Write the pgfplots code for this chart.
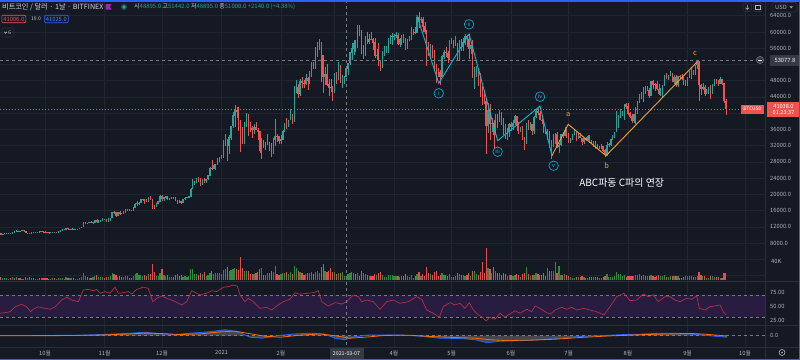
\documentclass[border=0pt]{standalone}
\usepackage{pgfplots}
\pgfplotsset{compat=1.18}
\usepackage{pgfplotstable}
\usepackage{fontspec}
\setmainfont{Noto Sans CJK KR}
\definecolor{bg}{RGB}{21,25,36}
\definecolor{gridc}{RGB}{33,37,49}
\definecolor{sepc}{RGB}{42,46,57}
\definecolor{axtext}{RGB}{178,181,190}
\definecolor{hdr}{RGB}{209,212,220}
\definecolor{upc}{RGB}{38,166,154}
\definecolor{downc}{RGB}{239,83,80}
\definecolor{volg}{RGB}{46,140,62}
\definecolor{volr}{RGB}{226,78,76}
\definecolor{rsic}{RGB}{178,48,72}
\definecolor{rsiband}{RGB}{40,28,64}
\definecolor{dashc}{RGB}{120,123,134}
\definecolor{cyanc}{RGB}{0,188,212}
\definecolor{orangec}{RGB}{242,162,40}
\definecolor{labbox}{RGB}{54,58,69}
\definecolor{bluec}{RGB}{41,98,255}
\definecolor{macdblue}{RGB}{41,98,255}
\definecolor{macdorange}{RGB}{255,109,0}
\definecolor{flagc}{RGB}{156,39,176}

\pgfplotstableread{
d o h l c v
-23 10.37 10.43 9.88 10.13 6
-22 10.13 10.35 10.0 10.23 5
-21 10.23 10.48 10.2 10.34 5
-20 10.34 10.4 10.2 10.39 4
-19 10.39 10.48 10.3 10.44 3
-18 10.44 10.58 10.2 10.33 4
-17 10.33 10.8 10.25 10.68 6
-16 10.68 10.94 10.63 10.79 5
-15 10.79 11.1 10.68 10.95 6
-14 10.95 11.05 10.75 10.94 5
-13 10.94 11.04 10.82 10.93 4
-12 10.93 11.18 10.89 11.08 3
-11 11.08 11.08 10.78 10.92 3
-10 10.92 10.99 10.38 10.42 7
-9 10.42 10.58 10.36 10.53 4
-8 10.53 10.53 10.15 10.24 6
-7 10.24 10.78 10.2 10.74 5
-6 10.74 10.76 10.6 10.69 4
-5 10.69 10.79 10.67 10.73 3
-4 10.73 10.8 10.64 10.77 3
-3 10.77 10.95 10.68 10.70 4
-2 10.70 10.86 10.65 10.84 4
-1 10.84 10.85 10.68 10.78 4
0 10.78 10.92 10.44 10.62 5
1 10.62 10.63 10.38 10.57 5
2 10.57 10.6 10.5 10.55 3
3 10.55 10.69 10.51 10.67 3
4 10.67 10.8 10.6 10.79 4
5 10.79 10.8 10.55 10.60 4
6 10.60 10.69 10.58 10.67 3
7 10.67 10.95 10.54 10.92 5
8 10.92 11.1 10.83 11.06 5
9 11.06 11.45 11.02 11.30 5
10 11.30 11.43 11.25 11.38 3
11 11.38 11.72 11.2 11.54 6
12 11.54 11.56 11.3 11.43 5
13 11.43 11.55 11.28 11.43 4
14 11.43 11.62 11.28 11.50 4
15 11.50 11.55 11.2 11.32 5
16 11.32 11.4 11.28 11.36 3
17 11.36 11.5 11.34 11.48 3
18 11.48 11.8 11.42 11.74 5
19 11.74 12.0 11.67 11.92 6
20 11.92 13.2 11.9 12.82 14
21 12.82 13.2 12.7 12.97 9
22 12.97 13.03 12.73 12.93 6
23 12.93 13.15 12.9 13.11 4
24 13.11 13.33 12.92 13.03 5
25 13.03 13.25 12.8 13.07 6
26 13.07 13.78 13.05 13.65 9
27 13.65 13.85 12.95 13.27 10
28 13.27 13.64 12.99 13.46 7
29 13.46 13.67 13.13 13.56 6
30 13.56 14.1 13.42 13.80 6
31 13.80 13.9 13.62 13.76 4
32 13.76 13.82 13.22 13.55 7
33 13.55 14.07 13.28 13.95 7
34 13.95 14.23 13.53 14.13 8
35 14.13 15.75 14.1 15.58 14
36 15.58 15.96 15.2 15.57 12
37 15.57 15.7 14.35 14.83 11
38 14.83 15.65 14.72 15.48 7
39 15.48 15.83 14.8 15.33 9
40 15.33 15.47 15.08 15.30 6
41 15.30 15.95 15.28 15.70 7
42 15.70 16.34 15.45 16.28 9
43 16.28 16.48 15.96 16.32 8
44 16.32 16.33 15.8 16.07 5
45 16.07 16.15 15.79 15.96 5
46 15.96 16.9 15.88 16.72 9
47 16.72 17.86 16.56 17.65 12
48 17.65 18.48 17.22 17.80 15
49 17.80 18.15 17.35 17.82 10
50 17.82 18.8 17.76 18.68 10
51 18.68 18.96 18.35 18.72 9
52 18.72 18.75 17.65 18.42 10
53 18.42 18.77 18.0 18.37 9
54 18.37 19.4 18.0 19.16 13
55 19.16 19.48 18.6 18.73 12
56 18.73 18.92 16.3 17.15 34
57 17.15 17.45 16.5 17.14 16
58 17.14 17.88 16.88 17.72 9
59 17.72 18.35 17.55 18.18 8
60 18.18 19.85 18.15 19.63 15
61 19.63 19.92 18.3 18.80 23
62 18.80 19.3 18.35 19.20 10
63 19.20 19.58 18.95 19.45 9
64 19.45 19.52 18.6 18.70 11
65 18.70 19.18 18.54 19.15 7
66 19.15 19.42 18.9 19.36 6
67 19.36 19.41 18.9 19.17 7
68 19.17 19.28 18.25 18.32 11
69 18.32 18.63 17.6 18.55 12
70 18.55 18.56 17.9 18.25 9
71 18.25 18.28 17.57 18.04 11
72 18.04 18.95 18.02 18.81 7
73 18.81 19.4 18.7 19.14 8
74 19.14 19.35 19.0 19.25 7
75 19.25 19.56 19.05 19.43 9
76 19.43 21.5 19.3 21.34 23
77 21.34 23.75 21.2 22.80 24
78 22.80 23.28 22.35 23.13 13
79 23.13 24.15 22.8 23.86 12
80 23.86 24.28 23.1 23.48 11
81 23.48 24.1 22.0 22.74 15
82 22.74 23.85 22.4 23.82 13
83 23.82 24.1 22.7 23.25 16
84 23.25 23.8 22.75 23.73 9
85 23.73 24.8 23.45 24.70 10
86 24.70 26.85 24.5 26.46 15
87 26.46 28.4 25.9 26.28 20
88 26.28 27.4 26.2 27.08 12
89 27.08 27.4 25.9 27.36 14
90 27.36 28.99 27.32 28.86 15
91 28.86 29.3 27.9 29.00 14
92 29.00 29.6 28.7 29.37 12
93 29.37 33.3 29.0 32.13 22
94 32.13 34.8 32.0 33.00 24
95 33.00 33.6 28.1 32.01 27
96 32.01 34.5 29.9 34.04 20
97 34.04 36.9 33.4 36.83 21
98 36.83 40.2 36.3 39.37 23
99 39.37 41.95 36.6 40.67 25
100 40.67 41.4 38.8 40.24 23
101 40.24 41.4 35.6 38.24 22
102 38.24 38.3 30.4 35.54 48
103 35.54 36.6 32.5 34.00 25
104 34.00 37.8 32.4 37.39 20
105 37.39 40.0 36.7 39.16 19
106 39.16 39.7 34.4 36.82 20
107 36.82 37.9 35.4 36.18 13
108 36.18 36.9 33.9 35.79 13
109 35.79 37.3 34.8 36.63 12
110 36.63 37.85 35.9 35.89 14
111 35.89 36.4 33.4 35.47 17
112 35.47 35.6 30.1 30.85 24
113 30.85 33.8 28.8 32.98 26
114 32.98 33.4 31.4 32.07 11
115 32.07 32.9 30.9 32.29 10
116 32.29 34.8 32.1 32.37 15
117 32.37 32.9 30.8 32.57 15
118 32.57 32.6 29.3 30.43 18
119 30.43 33.8 30.0 33.47 16
120 33.47 38.5 31.9 34.32 30
121 34.32 34.9 32.9 34.27 12
122 34.27 34.3 32.3 33.11 10
123 33.11 34.7 32.3 33.54 12
124 33.54 35.9 33.4 35.51 14
125 35.51 37.6 35.4 37.47 14
126 37.47 38.7 36.2 36.93 16
127 36.93 38.3 36.6 38.29 12
128 38.29 40.9 38.2 39.26 16
129 39.26 39.7 37.4 38.90 13
130 38.90 46.7 37.9 46.20 30
131 46.20 48.1 45.0 46.48 25
132 46.48 47.3 43.8 44.84 18
133 44.84 48.5 44.2 47.97 17
134 47.97 48.9 46.3 47.48 15
135 47.48 48.1 46.3 47.17 11
136 47.17 49.7 47.0 48.59 12
137 48.59 49.0 45.7 47.93 14
138 47.93 50.5 47.1 49.20 15
139 49.20 52.6 48.9 52.15 17
140 52.15 52.5 50.9 51.68 12
141 51.68 56.2 50.9 55.89 17
142 55.89 57.5 53.9 55.92 20
143 55.92 58.35 55.5 57.48 14
144 57.48 57.5 47.6 54.21 28
145 54.21 54.2 45.0 48.92 33
146 48.92 51.3 47.0 49.70 18
147 49.70 52.0 46.8 47.07 16
148 47.07 48.3 44.2 46.34 20
149 46.34 48.4 45.1 46.19 26
150 46.19 46.6 43.0 45.14 16
151 45.14 49.8 45.0 49.63 17
152 49.63 50.1 47.2 48.38 12
153 48.38 52.6 48.1 50.54 15
154 50.54 51.8 47.5 48.37 14
155 48.37 49.5 46.3 48.76 16
156 48.76 49.2 47.1 48.90 9
157 48.895 51.442 48.895 51.00 9
158 51.00 52.4 49.3 52.40 12
159 52.40 54.9 51.9 54.90 14
160 54.90 57.3 53.1 55.90 16
161 55.90 58.1 54.3 57.30 15
162 57.30 58.0 55.1 57.20 13
163 57.20 61.7 56.1 61.20 14
164 61.20 61.6 59.0 59.00 9
165 59.00 60.6 54.6 55.60 18
166 55.60 56.9 53.4 56.80 15
167 56.80 58.9 54.1 58.90 13
168 58.90 60.0 57.0 57.60 11
169 57.60 59.4 57.0 58.30 9
170 58.30 59.9 57.9 58.10 8
171 58.10 58.6 55.5 57.40 9
172 57.40 58.4 53.7 54.10 12
173 54.10 55.8 53.1 54.30 11
174 54.30 57.2 51.7 52.30 15
175 52.30 53.2 50.4 51.30 16
176 51.30 55.1 51.3 55.20 11
177 55.20 56.6 54.2 55.80 7
178 55.80 56.6 54.7 55.80 6
179 55.80 58.4 54.9 57.60 10
180 57.60 59.3 57.0 58.70 10
181 58.70 59.8 56.9 58.90 11
182 58.90 59.5 57.9 59.00 8
183 59.00 60.1 58.5 59.10 9
184 59.10 59.7 56.9 57.10 8
185 57.10 58.5 56.4 58.20 6
186 58.20 59.3 56.8 59.10 8
187 59.10 59.5 57.3 58.00 8
188 58.00 58.6 55.5 56.00 12
189 56.00 58.2 55.8 58.00 8
190 58.00 58.9 57.7 58.10 6
191 58.10 61.2 57.9 59.80 10
192 59.80 60.7 59.3 59.90 5
193 59.90 61.2 59.4 59.80 9
194 59.80 63.8 59.8 63.50 13
195 63.50 64.85 61.0 62.90 16
196 62.90 63.8 62.1 63.20 9
197 63.20 63.6 60.0 61.40 13
198 61.40 62.5 59.6 60.00 9
199 60.00 60.4 51.5 56.20 27
200 56.20 57.5 54.2 55.70 14
201 55.70 57.0 53.4 56.50 13
202 56.50 56.7 53.6 53.80 11
203 53.80 55.5 50.4 51.70 16
204 51.70 52.1 47.5 51.10 18
205 51.10 51.2 48.8 50.00 9
206 50.00 50.6 47.0 49.00 11
207 49.00 54.3 48.8 54.00 14
208 54.00 55.5 53.3 55.00 10
209 55.00 56.4 53.9 54.80 10
210 54.80 55.2 52.4 53.60 9
211 53.60 58.0 53.0 57.80 12
212 57.80 58.4 57.0 57.80 6
213 57.80 57.9 56.0 56.60 6
214 56.60 58.9 56.5 57.20 9
215 57.20 57.2 53.0 53.20 14
216 53.20 57.9 52.9 57.50 12
217 57.50 58.3 55.3 56.40 10
218 56.40 58.6 55.4 57.40 10
219 57.40 59.5 56.9 58.90 9
220 58.90 59.3 56.3 58.30 10
221 58.30 59.6 53.4 55.90 14
222 55.90 56.9 54.5 56.70 9
223 56.70 57.9 48.6 49.40 20
224 49.40 51.3 46.0 49.70 18
225 49.70 51.5 48.8 49.90 12
226 49.90 50.7 46.6 46.80 11
227 46.80 49.8 43.9 46.40 17
228 46.40 46.6 42.1 43.60 37
229 43.60 45.8 42.3 42.90 14
230 42.90 43.5 30.0 37.00 67
231 37.00 42.5 35.0 40.80 25
232 40.80 42.2 33.5 37.30 23
233 37.30 38.8 35.3 37.50 14
234 37.50 38.3 31.1 34.70 27
235 34.70 39.9 34.5 38.80 18
236 38.80 39.8 36.4 38.40 14
237 38.40 40.8 37.8 39.30 14
238 39.30 40.4 37.2 38.40 10
239 38.40 38.9 34.7 35.70 15
240 35.70 37.3 33.7 34.60 12
241 34.60 36.4 33.4 35.70 9
242 35.70 37.5 34.2 37.30 11
243 37.30 37.9 35.7 36.70 10
244 36.70 38.2 35.9 37.60 9
245 37.60 39.5 37.2 39.20 10
246 39.20 39.3 35.6 36.90 13
247 36.90 37.9 34.8 35.50 10
248 35.50 36.5 35.3 35.80 7
249 35.80 36.8 33.3 33.60 12
250 33.60 34.1 31.0 33.40 15
251 33.40 37.5 32.4 37.40 28
252 37.40 38.4 35.8 36.70 13
253 36.70 37.7 35.9 37.30 9
254 37.30 37.4 34.6 35.60 10
255 35.60 39.3 34.8 39.00 11
256 39.00 41.0 38.8 40.50 15
257 40.50 41.3 39.5 40.10 12
258 40.10 40.5 38.2 38.30 11
259 38.30 39.5 37.4 38.10 10
260 38.10 38.2 35.2 35.80 15
261 35.80 36.4 34.8 35.50 9
262 35.50 36.1 33.4 35.60 25
263 35.60 35.7 31.3 31.70 20
264 31.70 33.3 28.8 32.50 20
265 32.50 34.8 31.7 33.70 18
266 33.70 35.2 32.3 34.70 38
267 34.70 35.3 31.3 31.60 15
268 31.60 32.7 30.2 32.20 29
269 32.20 34.7 32.0 34.70 10
270 34.70 35.3 33.9 34.50 10
271 34.50 36.6 34.3 35.90 12
272 35.90 36.0 34.0 35.00 10
273 35.00 35.0 32.7 33.50 9
274 33.50 33.9 32.7 33.80 7
275 33.80 34.9 33.5 34.70 5
276 34.70 35.9 34.5 35.30 5
277 35.30 35.3 33.2 33.90 7
278 33.90 35.0 33.6 34.20 7
279 34.20 35.0 33.8 33.90 6
280 33.90 33.9 32.1 32.90 9
281 32.90 34.0 32.3 33.80 7
282 33.80 34.2 33.1 33.50 4
283 33.50 34.5 33.3 34.20 4
284 34.20 34.6 32.7 33.10 6
285 33.10 33.3 32.3 32.70 6
286 32.70 33.1 31.6 32.80 7
287 32.80 33.2 31.2 31.80 7
288 31.80 32.3 31.1 31.40 6
289 31.40 31.9 31.2 31.50 4
290 31.50 32.4 31.2 31.80 4
291 31.80 31.9 30.5 30.80 7
292 30.80 31.1 29.3 29.80 9
293 29.80 32.8 29.5 32.10 12
294 32.10 32.6 31.7 32.30 7
295 32.30 33.6 32.0 33.60 7
296 33.60 34.5 33.4 34.30 6
297 34.30 35.4 33.9 35.40 8
298 35.40 40.5 35.3 37.30 17
299 37.30 39.5 36.4 39.40 13
300 39.40 40.9 38.8 40.00 12
301 40.00 40.6 39.2 40.00 8
302 40.00 42.3 38.3 42.20 11
303 42.20 42.4 41.1 41.60 7
304 41.60 42.6 39.5 39.90 9
305 39.90 40.4 38.7 39.20 8
306 39.20 39.7 37.6 38.20 9
307 38.20 39.9 37.5 39.70 8
308 39.70 41.4 37.4 40.90 11
309 40.90 43.0 39.9 42.80 11
310 42.80 44.7 42.5 44.60 12
311 44.60 45.3 43.4 43.80 9
312 43.80 46.5 42.8 46.30 11
313 46.30 46.7 44.8 45.60 9
314 45.60 46.7 45.4 45.60 8
315 45.60 46.2 43.8 44.40 8
316 44.40 47.9 44.3 47.80 10
317 47.80 48.1 45.9 47.10 8
318 47.10 47.4 45.5 47.00 7
319 47.00 48.0 45.6 45.90 9
320 45.90 47.2 44.4 44.70 11
321 44.70 46.1 44.2 44.70 9
322 44.70 47.0 43.9 46.80 9
323 46.80 49.4 46.7 49.30 11
324 49.30 49.8 48.3 48.90 7
325 48.90 49.5 48.1 49.30 6
326 49.30 50.5 49.1 49.50 9
327 49.50 49.9 47.6 47.70 9
328 47.70 49.3 47.2 48.90 8
329 48.90 49.4 46.4 46.90 9
330 46.90 49.2 46.4 49.10 8
331 49.10 49.3 48.4 48.90 5
332 48.90 49.6 48.1 48.80 5
333 48.80 48.9 46.9 47.00 7
334 47.00 48.2 46.7 47.20 9
335 47.20 49.0 46.6 48.80 9
336 48.80 50.4 48.7 49.30 9
337 49.30 51.0 48.4 50.00 9
338 50.00 50.6 49.5 49.90 6
339 49.90 51.9 49.5 51.80 6
340 51.80 52.9 50.9 52.70 8
341 52.70 52.9 43.0 46.90 17
342 46.90 47.3 44.5 46.10 11
343 46.10 47.4 45.6 46.40 8
344 46.40 47.0 44.2 44.90 8
345 44.90 45.9 44.8 45.20 5
346 45.20 46.4 44.8 46.10 5
347 46.10 46.9 43.4 44.90 9
348 44.90 47.2 44.7 47.10 8
349 47.10 48.4 46.7 48.20 7
350 48.20 48.5 47.1 47.80 7
351 47.80 48.2 46.8 47.30 6
352 47.30 48.8 47.1 48.30 5
353 48.30 48.4 46.9 47.30 5
354 47.30 47.3 42.6 43.00 14
355 43.00 43.6 39.6 41.04 14
}\btc

\pgfplotstableread{
x y
0 0.3
40 0.2
80 0.5
110 1.5
130 2.5
145 3.5
160 2
175 1
190 2.5
210 4
225 6
232 5
240 3
250 -1.5
262 -2.5
275 -0.5
290 1.5
310 2.5
325 1.5
335 -2.5
345 -4
355 -1
370 0.8
400 0.8
420 -0.5
440 -2.5
460 -2.8
475 -4
487 -7
500 -5.5
520 -5
540 -4
560 -2.5
580 -0.8
600 0
620 1
640 1.5
660 2.5
680 2.5
700 1
715 -0.5
727 -1.5
}\macd

\pgfplotstableread{
x y
0 0
60 0.1
100 0.6
130 1.8
145 2.6
160 2.2
180 1.2
200 1.8
220 3.8
235 4.6
250 2
265 -0.5
280 -1.5
300 0.5
320 1.8
335 0
350 -2.5
365 -1.5
385 0.3
410 0.5
430 -0.8
455 -1.8
475 -2.5
490 -4
505 -4.8
530 -4.5
555 -3.5
580 -1.8
610 -0.2
640 1
670 1.8
690 2.3
705 1.5
727 -0.3
}\macdsig

\begin{document}
\begin{tikzpicture}[font=\fontsize{6}{7}\selectfont]
\path[use as bounding box, fill=bg] (0,0) rectangle (800bp,-360bp);

% ---------------- price pane
\begin{axis}[at={(0bp,0bp)}, anchor=north west, scale only axis,
  width=765bp, height=282bp,
  xmin=-23.46, xmax=375.4, ymin=-1.59, ymax=67.87,
  axis line style={draw=none}, tick style={draw=none},
  xtick={0,31,61,92,123,151,182,212,243,273,304,335,365}, xticklabels={},
  ytick={0,4,...,64},
  yticklabels={,,8000.0,12000.0,16000.0,20000.0,24000.0,28000.0,32000.0,36000.0,,44000.0,48000.0,,56000.0,60000.0,64000.0},
  yticklabel pos=right,
  yticklabel style={anchor=west, inner sep=0pt, xshift=5bp, text=axtext, font=\fontsize{5.8}{6}\selectfont},
  grid=major, major grid style={gridc, line width=0.6bp},
  clip=true]
% wicks (quiver from low to high)
\addplot[draw=upc, line width=0.5bp, -, forget plot,
  x filter/.expression={\thisrow{c}>=\thisrow{o} ? x : nan},
  quiver={u=0, v=\thisrow{h}-\thisrow{l}}]
  table[x=d, y=l] {\btc};
\addplot[draw=downc, line width=0.5bp, -, forget plot,
  x filter/.expression={\thisrow{c}<\thisrow{o} ? x : nan},
  quiver={u=0, v=\thisrow{h}-\thisrow{l}}]
  table[x=d, y=l] {\btc};
% bodies (quiver from min(o,c) to max(o,c))
\addplot[draw=upc, line width=1.35bp, -, forget plot,
  x filter/.expression={\thisrow{c}>=\thisrow{o} ? x : nan},
  quiver={u=0, v=\thisrow{c}-\thisrow{o}+0.12}]
  table[x=d, y expr={\thisrow{o}-0.06}] {\btc};
\addplot[draw=downc, line width=1.35bp, -, forget plot,
  x filter/.expression={\thisrow{c}<\thisrow{o} ? x : nan},
  quiver={u=0, v=\thisrow{o}-\thisrow{c}+0.12}]
  table[x=d, y expr={\thisrow{c}-0.06}] {\btc};
% crosshair and last price lines
\draw[dashc, dash pattern=on 3bp off 3bp, line width=0.6bp] (axis cs:-23.46,53.0778) -- (axis cs:371,53.0778);
\draw[downc, dash pattern=on 1bp off 2bp, line width=0.6bp] (axis cs:-23.46,41.038) -- (axis cs:375.4,41.038);
% Elliott wave annotation
\addplot[cyanc, line width=0.9bp, forget plot] coordinates {(193.8,64.2) (205.3,47.35) (221.1,59.49) (236.0,33.21) (258.1,41.76) (264.3,29.52)};
\addplot[orangec, line width=0.9bp, forget plot] coordinates {(264.3,29.52) (272.8,37.25) (292.5,29.52) (339.8,52.52)};
\tikzset{wl/.style={circle, draw=cyanc, line width=0.6bp, inner sep=0pt, minimum size=9.5bp, text=cyanc, font=\fontsize{5.5}{6}\selectfont}}
\node[wl] at (axis cs:205.3,44.89) {i};
\node[wl] at (axis cs:221.1,61.88) {ii};
\node[wl] at (axis cs:236.0,30.50) {iii};
\node[wl] at (axis cs:258.1,44.05) {iv};
\node[wl] at (axis cs:265.2,27.05) {v};
\node[text=orangec, font=\fontsize{7.5}{8}\selectfont, inner sep=0pt] at (axis cs:272.8,39.79) {a};
\node[text=orangec, font=\fontsize{7.5}{8}\selectfont, inner sep=0pt] at (axis cs:292.9,27.05) {b};
\node[text=orangec, font=\fontsize{7.5}{8}\selectfont, inner sep=0pt] at (axis cs:338.9,54.74) {c};
\node[text=white, font=\fontsize{10}{11}\selectfont, inner sep=0pt] at (axis cs:300.7,22.87) {ABC파동 C파의 연장};
\end{axis}

% ---------------- volume overlay
\begin{axis}[at={(0bp,-280bp)}, anchor=south west, scale only axis,
  width=765bp, height=40bp, xmin=-23.46, xmax=375.4, ymin=0, ymax=84.2,
  hide axis, clip=true]
\addplot[ycomb, draw=volg, line width=1.2bp, forget plot,
  x filter/.expression={\thisrow{c}>=\thisrow{o} ? x : nan}] table[x=d, y=v] {\btc};
\addplot[ycomb, draw=volr, line width=1.2bp, forget plot,
  x filter/.expression={\thisrow{c}<\thisrow{o} ? x : nan}] table[x=d, y=v] {\btc};
\end{axis}

% ---------------- RSI pane
\begin{axis}[at={(0bp,-281bp)}, anchor=north west, scale only axis,
  width=765bp, height=44bp, xmin=0, xmax=765, ymin=15.8, ymax=96.4,
  axis line style={draw=none}, tick style={draw=none},
  xtick={45,104.5,162,221.5,280.9,334.6,394,451.6,511,568.6,628,687.5,745}, xticklabels={},
  xmajorgrids, major grid style={gridc, line width=0.6bp},
  ytick={25,50,75}, yticklabels={25.00,50.00,75.00},
  yticklabel pos=right,
  yticklabel style={anchor=west, inner sep=0pt, xshift=5bp, text=axtext, font=\fontsize{5.8}{6}\selectfont},
  clip=true]
\fill[rsiband] (axis cs:0,30) rectangle (axis cs:765,70);
\draw[dashc, dash pattern=on 3bp off 3bp, line width=0.6bp] (axis cs:0,70) -- (axis cs:765,70);
\draw[dashc, dash pattern=on 3bp off 3bp, line width=0.6bp] (axis cs:0,30) -- (axis cs:765,30);
\addplot[rsic, line width=0.7bp, forget plot] coordinates {
(0,37.3)(5,38.5)(10,40)(15,49)(21.7,54)(26.7,49)(30.7,40)(33,44.6)(38,49)(45,46.4)(50,44.6)(55,49)
(61.7,61.6)(66.7,66.6)(71.7,61.6)(78.3,58.5)(83.3,80)(88.3,81)(93.3,78.7)(96.7,81)(100,74)(105,77)
(110,74)(115,85)(118.3,74)(123.3,75)(128.3,77)(131.7,72.6)(136.7,81)(143.3,85)(148.3,83)(152.7,58.5)
(156.7,64.7)(161.7,69)(166.7,64.7)(173.3,60.4)(181.7,52.5)(186.7,58.5)(191.7,78.7)(200,70.8)(206.7,74)
(211.7,78.7)(216.7,77)(223.3,85)(228.3,86)(233.3,89)(237.3,87)(240,70.8)(245,58.5)(248.3,64.7)(253.3,58.5)
(260,46.4)(266.7,48.2)(271.7,43.3)(276.7,50.6)(283.3,58.5)(290,62.9)(295,75)(300,72)(306.7,74)(313.3,75)
(318.3,78.7)(321.7,58.5)(328.3,50.6)(335,56.7)(341.7,54.3)(346.7,58.5)(353.3,70.8)(358.3,67.7)(361.7,58.5)
(366.7,61.6)(373.3,58.5)(380,44.6)(386.7,58.5)(393.3,61.6)(400,55.6)(408.3,58.5)(416.7,67.7)(421.7,62.9)
(426.7,43.3)(433.3,37.3)(439.3,30)(443.3,49.4)(450,56.7)(455,52.5)(460,55.6)(465,46.4)(469.3,56.7)
(473.3,43.3)(478.3,34.2)(481.7,31)(486,23.2)(490,30)(495,26.3)(500,37.3)(505,30)(510,36)(515,42)(520,37.3)
(526.7,44.6)(531.7,40)(535,50.6)(540,46.4)(546.7,38.4)(550.7,36)(555,43.3)(561.7,48.2)(566.7,44.6)
(571.7,48.2)(576.7,43.3)(583.3,46.4)(590,43.3)(596.7,40)(604,34.2)(610,49.4)(616.7,67.7)(624,74)(630,60.4)
(636.7,61.6)(643.3,72.6)(648.3,67.7)(653.3,70.8)(658.3,58.5)(665,67.7)(670,67.7)(675,61.6)(680,58.5)
(686.7,64.7)(691.7,62.9)(696.7,69)(699.3,46.4)(705,43.3)(710,49.4)(715,50.6)(720,52.5)(723.3,40)(726,34.2)};
\end{axis}

% ---------------- MACD pane
\begin{axis}[at={(0bp,-325bp)}, anchor=north west, scale only axis,
  width=765bp, height=22bp, xmin=0, xmax=765, ymin=-11.3, ymax=10.7,
  axis line style={draw=none}, tick style={draw=none},
  xtick={45,104.5,162,221.5,280.9,334.6,394,451.6,511,568.6,628,687.5,745},
  xticklabels={10월,11월,12월,2021,2월,,4월,5월,6월,7월,8월,9월,10월},
  xticklabel style={inner sep=0pt, yshift=-3.5bp, text=axtext, font=\fontsize{5.8}{6}\selectfont},
  xmajorgrids, major grid style={gridc, line width=0.6bp},
  ytick={0}, yticklabels={0.0}, yticklabel pos=right,
  yticklabel style={anchor=west, inner sep=0pt, xshift=5bp, text=axtext, font=\fontsize{5.8}{6}\selectfont},
  clip=true]
\draw[dashc, dash pattern=on 3bp off 3bp, line width=0.6bp] (axis cs:0,0) -- (axis cs:765,0);
\addplot[draw=none, fill=gray, fill opacity=0.45, forget plot] table[x=x, y=y] {\macd} \closedcycle;
\addplot[macdblue, line width=0.8bp, forget plot] table[x=x, y=y] {\macd};
\addplot[macdorange, line width=0.8bp, forget plot] table[x=x, y=y] {\macdsig};
\end{axis}

% ---------------- separators, crosshair
\draw[sepc, line width=0.8bp] (765.5bp,0) -- (765.5bp,-360bp);
\draw[sepc, line width=0.8bp] (0,-281bp) -- (800bp,-281bp);
\draw[sepc, line width=0.8bp] (0,-325bp) -- (800bp,-325bp);
\draw[sepc, line width=0.8bp] (0,-347bp) -- (800bp,-347bp);
\draw[dashc, dash pattern=on 3bp off 3bp, line width=0.6bp] (346.5bp,0) -- (346.5bp,-347bp);

% right scale labels
\node[anchor=west, inner sep=0pt, text=axtext, font=\fontsize{5.8}{6}\selectfont] at (771bp,-261bp) {40K};
\node[fill=labbox, text=white, inner sep=0pt, minimum height=11bp, minimum width=30bp, font=\fontsize{5.8}{6}\selectfont] at (785bp,-60bp) {53077.8};
\draw[dashc, fill=labbox, line width=0.5bp] (760bp,-60bp) circle (3.6bp);
\draw[white, line width=0.5bp] (758bp,-60bp) -- (762bp,-60bp);
\node[fill=downc, text=white, inner sep=0pt, minimum height=15bp, minimum width=33bp, align=center, font=\fontsize{5.6}{6.3}\selectfont] at (783.5bp,-109.5bp) {41038.0\\01:23:37};
\node[fill=downc, text=white, inner sep=0pt, minimum height=9bp, minimum width=23bp, font=\fontsize{4.8}{5}\selectfont] at (752.5bp,-109bp) {BTCUSD};
\node[fill=labbox, text=white, inner sep=0pt, minimum height=12bp, minimum width=34bp, font=\fontsize{5.3}{6}\selectfont] at (346.5bp,-353.5bp) {2021-03-07};
\draw[axtext, line width=0.6bp] (782bp,-352.5bp) circle (3bp);
\fill[axtext] (782bp,-352.5bp) circle (0.9bp);

% top right controls
\draw[sepc, line width=0.6bp, rounded corners=1.5bp] (743bp,-3bp) rectangle (751.5bp,-11.5bp);
\draw[axtext, line width=0.5bp] (747.25bp,-4.8bp) -- (747.25bp,-9.5bp) (745.5bp,-7.8bp) -- (747.25bp,-9.5bp) -- (749bp,-7.8bp);
\draw[sepc, line width=0.6bp, rounded corners=1.5bp] (753.5bp,-3bp) rectangle (762bp,-11.5bp);
\draw[axtext, line width=0.5bp] (755.5bp,-5.5bp) rectangle (760bp,-9bp);
\draw[sepc, line width=0.6bp, rounded corners=1.5bp] (772bp,-2.5bp) rectangle (797bp,-12bp);
\node[anchor=west, inner sep=0pt, text=axtext, font=\fontsize{5.8}{6}\selectfont] at (775bp,-7.2bp) {USD};
\fill[axtext] (789.5bp,-6.3bp) -- (793bp,-6.3bp) -- (791.25bp,-8.3bp) -- cycle;

% header
\node[anchor=west, inner sep=0pt, text=hdr, font=\fontsize{7.2}{8}\selectfont] at (2bp,-7bp) {비트코인 / 달러 · 1날 · BITFINEX};
\fill[flagc] (105.5bp,-4bp) -- (111.5bp,-4bp) -- (110bp,-6.8bp) -- (111.5bp,-9.6bp) -- (105.5bp,-9.6bp) -- cycle;
\fill[upc!35!bg] (124bp,-7bp) circle (3.2bp);
\fill[upc] (124bp,-7bp) circle (1.8bp);
\node[anchor=west, inner sep=0pt, font=\fontsize{6}{7}\selectfont] at (134bp,-7bp)
  {\textcolor{hdr}{시}\textcolor{upc}{48895.0} \textcolor{hdr}{고}\textcolor{upc}{51442.0} \textcolor{hdr}{저}\textcolor{upc}{48895.0} \textcolor{hdr}{종}\textcolor{upc}{51000.0} \textcolor{upc}{+2140.0 (+4.38\%)}};
\node[anchor=west, draw=downc, rounded corners=1.2bp, text=downc, inner sep=1.6bp, line width=0.6bp, font=\fontsize{5.8}{6}\selectfont] at (1.5bp,-19bp) {41006.0};
\node[anchor=west, inner sep=0pt, text=hdr, font=\fontsize{5}{6}\selectfont] at (31bp,-19bp) {19.0};
\node[anchor=west, draw=bluec, rounded corners=1.2bp, text=bluec!80!white, inner sep=1.6bp, line width=0.6bp, font=\fontsize{5.8}{6}\selectfont] at (44bp,-19bp) {41025.0};
\draw[sepc, line width=0.6bp, rounded corners=1.2bp] (2bp,-28bp) rectangle (14bp,-37bp);
\draw[hdr, line width=0.5bp] (4.3bp,-31.8bp) -- (5.6bp,-33.3bp) -- (6.9bp,-31.8bp);
\node[anchor=west, inner sep=0pt, text=hdr, font=\fontsize{5}{6}\selectfont] at (8.3bp,-32.5bp) {6};

% frame
\draw[bluec, line width=1.5bp] (0,-0.75bp) -- (799.25bp,-0.75bp) -- (799.25bp,-359.25bp) -- (0,-359.25bp);
\end{tikzpicture}
\end{document}
